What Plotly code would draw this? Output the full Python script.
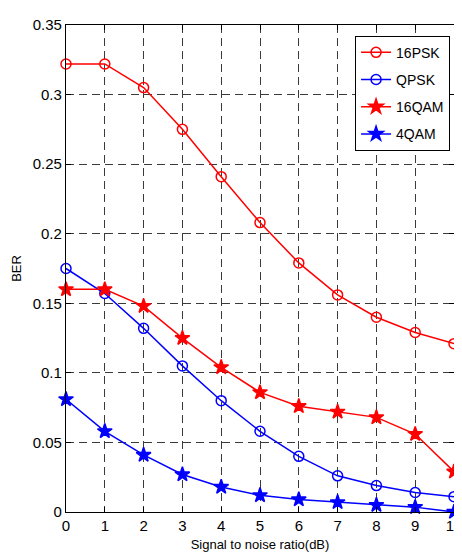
import plotly.graph_objects as go

snr = [0, 1, 2, 3, 4, 5, 6, 7, 8, 9, 10]
ber_16psk = [0.322, 0.322, 0.305, 0.275, 0.241, 0.208, 0.179, 0.156, 0.140, 0.129, 0.121]
ber_qpsk = [0.175, 0.157, 0.132, 0.105, 0.080, 0.058, 0.040, 0.026, 0.019, 0.014, 0.011]
ber_16qam = [0.160, 0.160, 0.148, 0.125, 0.104, 0.086, 0.076, 0.072, 0.068, 0.056, 0.029]
ber_4qam = [0.081, 0.058, 0.041, 0.027, 0.018, 0.012, 0.009, 0.007, 0.005, 0.0035, 0.0]

y_ticks = [0, 0.05, 0.1, 0.15, 0.2, 0.25, 0.3, 0.35]
y_tick_labels = ["0", "0.05", "0.1", "0.15", "0.2", "0.25", "0.3", "0.35"]

FONT = "Liberation Sans Narrow, Arial Narrow, Liberation Sans, Arial, sans-serif"

series = [
    ("16PSK", ber_16psk, "red", "circle-open", 10),
    ("QPSK", ber_qpsk, "blue", "circle-open", 10),
    ("16QAM", ber_16qam, "red", "star", 11),
    ("4QAM", ber_4qam, "blue", "star", 11),
]

fig = go.Figure()
for i, (name, ys, color, sym, size) in enumerate(series):
    fig.add_trace(go.Scatter(
        x=snr, y=ys, name=name, mode="lines+markers",
        line=dict(color=color, width=1.5),
        marker=dict(symbol=sym, size=size, color=color,
                    line=dict(color=color, width=1.5)),
        cliponaxis=False, legendgroup=f"g{i}",
    ))

axis_common = dict(
    showline=True, linecolor="black", linewidth=1.2, mirror="ticks",
    ticks="inside", ticklen=5, tickcolor="black",
    showgrid=True, gridcolor="#3a3a3a", griddash="8px,5px", gridwidth=1,
    zeroline=False, tickfont=dict(family=FONT, size=15, color="black"),
)

fig.update_xaxes(range=[0, 10], tickvals=snr, ticktext=[str(v) for v in snr],
                 title=dict(text="Signal to noise ratio(dB)", standoff=6,
                            font=dict(family=FONT, size=13, color="black")),
                 **axis_common)
fig.update_yaxes(range=[0, 0.35], tickvals=y_ticks, ticktext=y_tick_labels,
                 title=dict(text="BER", standoff=8,
                            font=dict(family=FONT, size=13, color="black")),
                 **axis_common)

fig.update_layout(
    width=462, height=554,
    margin=dict(l=54, r=8, t=14, b=50),
    plot_bgcolor="white", paper_bgcolor="white",
    showlegend=True,
    legend=dict(x=0.745, y=0.978, xanchor="left", yanchor="top",
                bordercolor="black", borderwidth=1, bgcolor="white",
                font=dict(family=FONT, size=14, color="black"),
                traceorder="grouped", tracegroupgap=6),
)

fig.write_html("out.html")
